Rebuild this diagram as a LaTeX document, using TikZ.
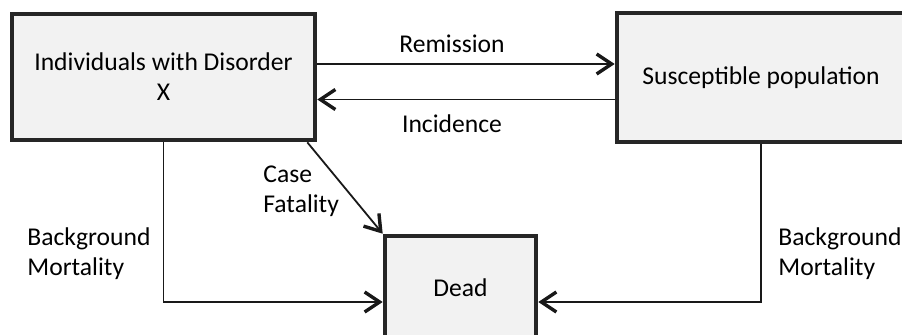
\documentclass[tikz,border=0pt]{standalone}
\usepackage{fontspec}
\setmainfont{Carlito}
\usetikzlibrary{arrows.meta,positioning}

\begin{document}
\begin{tikzpicture}[x=0.5pt,y=-0.5pt,
    box/.style={draw=black!85,line width=2.3pt,fill=black!5,inner sep=0pt,
      align=center,font=\fontsize{12.8}{15}\selectfont},
    flow/.style={draw=black!90,line width=0.9pt,
      -{Straight Barb[length=7.5pt,width=10pt,line width=1.7pt]}},
    lbl/.style={font=\fontsize{12.8}{15}\selectfont,inner sep=0pt,align=left}]

  % Fix the picture size to the reference
  \useasboundingbox (0,0) rectangle (902,334);

  % Compartments
  \node[box,minimum width=151.5pt,minimum height=63pt] (indiv) at (163.5,77)
    {Individuals with Disorder\\X};
  \node[box,minimum width=144pt,minimum height=64.5pt] (susc) at (761,77.5)
    {Susceptible population};
  \node[box,minimum width=75.5pt,minimum height=52pt] (dead) at (460.5,288)
    {Dead};

  % Flows between the living compartments
  \draw[flow] ([yshift=6.5pt]indiv.east) -- ([yshift=6.5pt]indiv.east -| susc.west);
  \draw[flow] ([yshift=-11pt]susc.west) -- ([yshift=-11pt]susc.west -| indiv.east);
  \node[lbl,anchor=base] (rem) at (452,52) {Remission};
  \node[lbl,anchor=base] (inc) at (452,132) {Incidence};

  % Case fatality
  \draw[flow] ([xshift=-5pt]indiv.south east) -- (dead.north west);
  \node[lbl,anchor=base west] (cf) at (263,212) {Case\\Fatality};

  % Background mortality
  \coordinate (lcorner) at (indiv.south |- 302,302);
  \coordinate (rcorner) at (susc.south |- 302,302);
  \draw[flow] (indiv.south) -- (lcorner) -- (lcorner -| dead.west);
  \draw[flow] (susc.south) -- (rcorner) -- (rcorner -| dead.east);
  \node[lbl,anchor=base west] (bml) at (27,275) {Background\\Mortality};
  \node[lbl,anchor=base west] (bmr) at (778,275) {Background\\Mortality};
\end{tikzpicture}
\end{document}
